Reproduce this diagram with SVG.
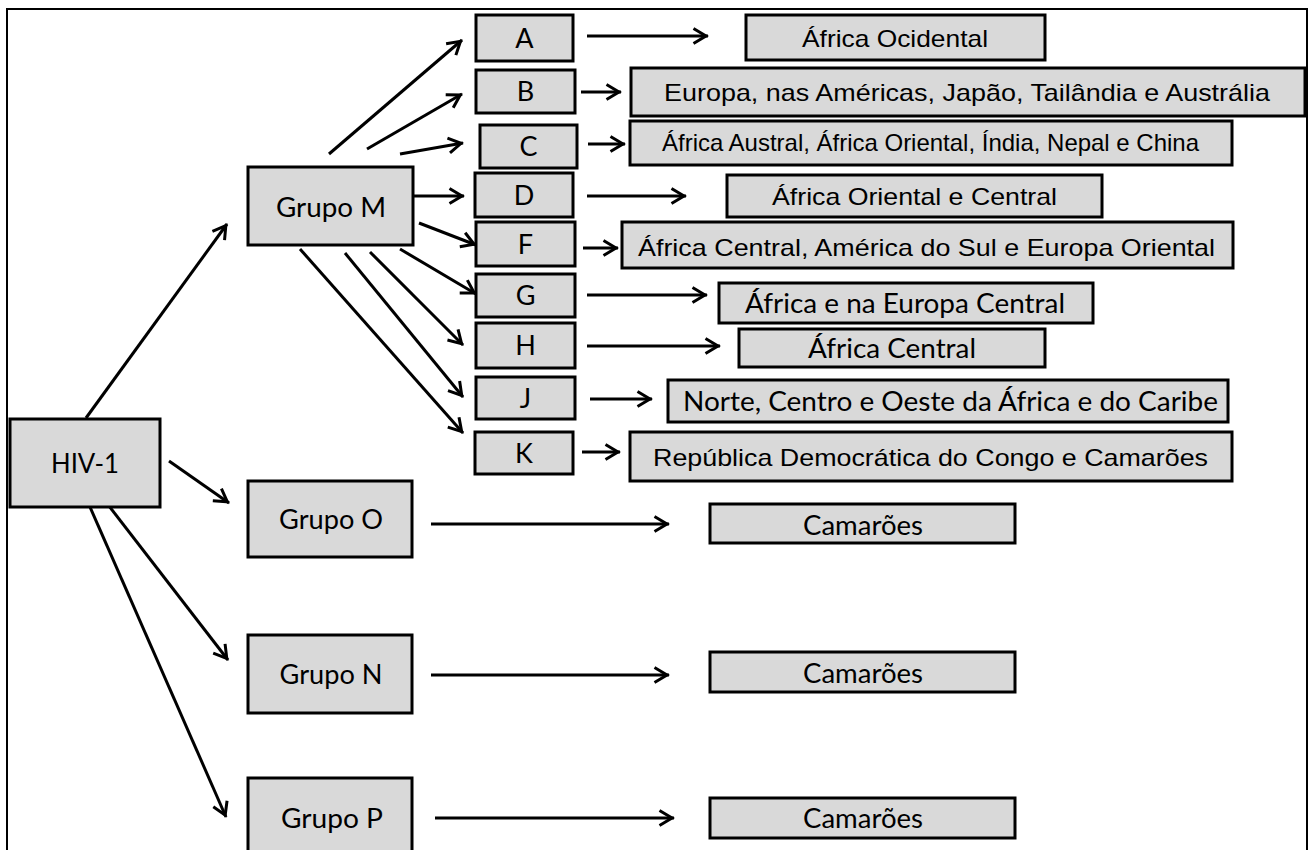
<svg xmlns="http://www.w3.org/2000/svg" width="1312" height="850" viewBox="0 0 1312 850">
<style>
.bx{fill:#d9d9d9;stroke:#000;stroke-width:3}
.c{font-family:Lato,"Liberation Sans",sans-serif;font-size:27px;fill:#000;text-anchor:middle}
.a{font-family:"Liberation Sans",Arial,sans-serif;font-size:24px;fill:#000;text-anchor:middle}
.ln{stroke:#000;stroke-width:3;fill:none;marker-end:url(#ah)}
</style>
<defs>
<marker id="ah" viewBox="-16 -10 20 20" refX="0" refY="0" markerWidth="20" markerHeight="20" markerUnits="userSpaceOnUse" orient="auto">
<path d="M-14.5,-7.5 L-2,0 L-14.5,7.5" fill="none" stroke="#000" stroke-width="3"/>
</marker>
</defs>
<rect width="1312" height="850" fill="#fff"/>
<rect x="7" y="9" width="1300" height="900" fill="none" stroke="#000" stroke-width="2"/>

<g id="connectors">
<line class="ln" x1="86" y1="418" x2="227" y2="224"/>
<line class="ln" x1="169" y1="461" x2="229" y2="503"/>
<line class="ln" x1="109" y1="506" x2="228" y2="660"/>
<line class="ln" x1="90" y1="507" x2="226" y2="817"/>
<line class="ln" x1="329" y1="154" x2="462" y2="40"/>
<line class="ln" x1="367" y1="149" x2="462" y2="94"/>
<line class="ln" x1="400" y1="154" x2="463" y2="143"/>
<line class="ln" x1="413" y1="196" x2="464" y2="196"/>
<line class="ln" x1="419" y1="223" x2="476" y2="245"/>
<line class="ln" x1="400" y1="249" x2="476" y2="294"/>
<line class="ln" x1="370" y1="252" x2="463" y2="345"/>
<line class="ln" x1="345" y1="253" x2="463" y2="397"/>
<line class="ln" x1="300" y1="249" x2="463" y2="433"/>
<line class="ln" x1="587" y1="36" x2="708" y2="36"/>
<line class="ln" x1="581" y1="92" x2="621" y2="92"/>
<line class="ln" x1="588" y1="144" x2="625" y2="144"/>
<line class="ln" x1="587" y1="196" x2="686" y2="196"/>
<line class="ln" x1="583" y1="248" x2="618" y2="248"/>
<line class="ln" x1="587" y1="295" x2="707" y2="295"/>
<line class="ln" x1="587" y1="346" x2="720" y2="346"/>
<line class="ln" x1="590" y1="399" x2="652" y2="399"/>
<line class="ln" x1="582" y1="452" x2="620" y2="452"/>
<line class="ln" x1="431" y1="524" x2="669" y2="524"/>
<line class="ln" x1="431" y1="675" x2="669" y2="675"/>
<line class="ln" x1="435" y1="818" x2="674" y2="818"/>
</g>

<g id="hiv1"><rect class="bx" x="10" y="419" width="150" height="88"/><text class="c" x="85" y="473" textLength="68" lengthAdjust="spacingAndGlyphs">HIV-1</text></g>
<g id="grupoM"><rect class="bx" x="248" y="167" width="165" height="78"/><text class="c" x="331" y="217" textLength="110" lengthAdjust="spacingAndGlyphs">Grupo M</text></g>
<g id="grupoO"><rect class="bx" x="248" y="481" width="164" height="76"/><text class="c" x="331" y="529" textLength="104" lengthAdjust="spacingAndGlyphs">Grupo O</text></g>
<g id="grupoN"><rect class="bx" x="248" y="635" width="164" height="78"/><text class="c" x="331" y="684" textLength="103" lengthAdjust="spacingAndGlyphs">Grupo N</text></g>
<g id="grupoP"><rect class="bx" x="248" y="778" width="164" height="100"/><text class="c" x="332" y="828" textLength="102" lengthAdjust="spacingAndGlyphs">Grupo P</text></g>

<g id="subA"><rect class="bx" x="476" y="15" width="97" height="46"/><text class="c" x="524.5" y="48">A</text></g>
<g id="subB"><rect class="bx" x="476" y="70" width="99" height="43"/><text class="c" x="525.5" y="101">B</text></g>
<g id="subC"><rect class="bx" x="480" y="125" width="97" height="43"/><text class="c" x="528.5" y="156">C</text></g>
<g id="subD"><rect class="bx" x="475" y="173" width="98" height="44"/><text class="c" x="524" y="205">D</text></g>
<g id="subF"><rect class="bx" x="476" y="222" width="99" height="44"/><text class="c" x="525.5" y="254">F</text></g>
<g id="subG"><rect class="bx" x="476" y="274" width="99" height="43"/><text class="c" x="525.5" y="305">G</text></g>
<g id="subH"><rect class="bx" x="476" y="323" width="99" height="45"/><text class="c" x="525.5" y="355">H</text></g>
<g id="subJ"><rect class="bx" x="476" y="377" width="99" height="42"/><text class="c" x="525.5" y="408">J</text></g>
<g id="subK"><rect class="bx" x="475" y="432" width="98" height="42"/><text class="c" x="524" y="463">K</text></g>

<g id="regA"><rect class="bx" x="746" y="15" width="299" height="45"/><text class="a" x="895" y="46.5" textLength="186" lengthAdjust="spacingAndGlyphs">África Ocidental</text></g>
<g id="regB"><rect class="bx" x="631" y="68" width="674" height="48"/><text class="a" x="967" y="100.5" textLength="606" lengthAdjust="spacingAndGlyphs">Europa, nas Américas, Japão, Tailândia e Austrália</text></g>
<g id="regC"><rect class="bx" x="630" y="121" width="602" height="44"/><text class="a" x="930.5" y="151" font-size="22" textLength="537" lengthAdjust="spacingAndGlyphs">África Austral, África Oriental, Índia, Nepal e China</text></g>
<g id="regD"><rect class="bx" x="727" y="175" width="375" height="42"/><text class="a" x="914.5" y="204.5" textLength="285" lengthAdjust="spacingAndGlyphs">África Oriental e Central</text></g>
<g id="regF"><rect class="bx" x="622" y="222" width="611" height="46"/><text class="a" x="926.5" y="255.5" textLength="577" lengthAdjust="spacingAndGlyphs">África Central, América do Sul e Europa Oriental</text></g>
<g id="regG"><rect class="bx" x="719" y="283" width="374" height="40"/><text class="c" x="905" y="313" textLength="320" lengthAdjust="spacingAndGlyphs">África e na Europa Central</text></g>
<g id="regH"><rect class="bx" x="739" y="329" width="306" height="38"/><text class="c" x="892" y="358" textLength="168" lengthAdjust="spacingAndGlyphs">África Central</text></g>
<g id="regJ"><rect class="bx" x="668" y="380" width="560" height="42"/><text class="c" x="950.5" y="411" textLength="535" lengthAdjust="spacingAndGlyphs">Norte, Centro e Oeste da África e do Caribe</text></g>
<g id="regK"><rect class="bx" x="630" y="432" width="602" height="49"/><text class="a" x="930.5" y="465.5" textLength="555" lengthAdjust="spacingAndGlyphs">República Democrática do Congo e Camarões</text></g>
<g id="camO"><rect class="bx" x="710" y="504" width="305" height="39"/><text class="c" x="863" y="535" textLength="120" lengthAdjust="spacingAndGlyphs">Camarões</text></g>
<g id="camN"><rect class="bx" x="710" y="652" width="305" height="40"/><text class="c" x="863" y="683" textLength="120" lengthAdjust="spacingAndGlyphs">Camarões</text></g>
<g id="camP"><rect class="bx" x="710" y="798" width="305" height="40"/><text class="c" x="863" y="828" textLength="120" lengthAdjust="spacingAndGlyphs">Camarões</text></g>
</svg>
